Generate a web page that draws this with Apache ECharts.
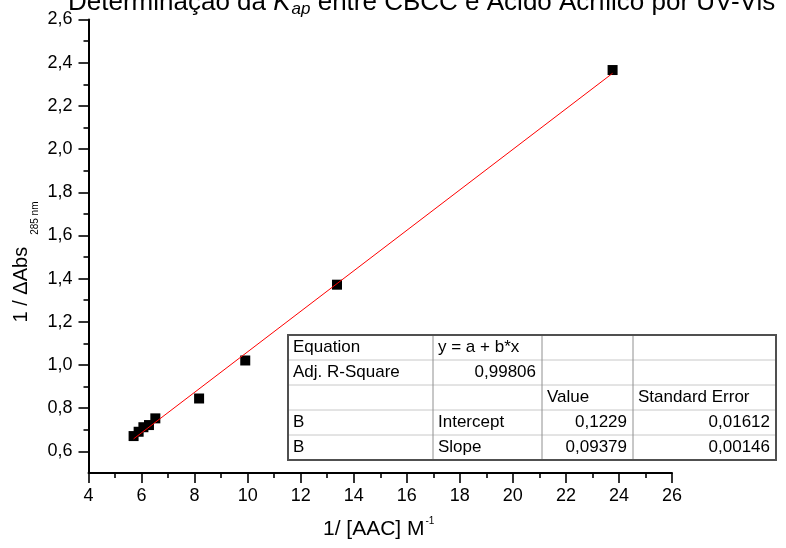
<!DOCTYPE html>
<html>
<head>
<meta charset="utf-8">
<script src="https://cdn.jsdelivr.net/npm/echarts@6/dist/echarts.min.js"></script>
<style>
  html, body { margin: 0; padding: 0; background: #fff; }
  #chart { width: 786px; height: 548px; }
</style>
</head>
<body>
<div id="chart"></div>
<script>
// data
var xData = [5.70, 5.89, 6.07, 6.28, 6.52, 8.17, 9.91, 13.37, 23.76];
var yData = [0.671, 0.691, 0.712, 0.722, 0.753, 0.845, 1.021, 1.372, 2.366];
// linear fit line end points
var fitX = [5.70, 23.76];
var fitY = [0.658, 2.351];
// ticks
var xTicks = [4, 6, 8, 10, 12, 14, 16, 18, 20, 22, 24, 26];
var yTicks = [0.6, 0.8, 1.0, 1.2, 1.4, 1.6, 1.8, 2.0, 2.2, 2.4, 2.6];
var yMinor = [0.7, 0.9, 1.1, 1.3, 1.5, 1.7, 1.9, 2.1, 2.3, 2.5];
var yMin = 0.5;
// fit results table
var tableRows = [
    ['Equation', 'y = a + b*x', '', ''],
    ['Adj. R-Square', '0,99806', '', ''],
    ['', '', 'Value', 'Standard Error'],
    ['B', 'Intercept', '0,1229', '0,01612'],
    ['B', 'Slope', '0,09379', '0,00146']
];

var FONT = '"Liberation Sans", Arial, sans-serif';
var chart = echarts.init(document.getElementById('chart'));

function comma(v) {
    return v.toFixed(1).replace('.', ',');
}

// table graphic
var colX = [288, 433, 542, 633, 776];
var rowTop = 335, rowH = 25;
var tableEls = [];
var tw = colX[colX.length - 1] - colX[0];
var th = rowH * tableRows.length;
tableEls.push({
    type: 'rect', z: 100,
    shape: { x: colX[0], y: rowTop, width: tw, height: th },
    style: { fill: '#fff', stroke: null }
});
for (var r = 1; r < tableRows.length; r++) {
    tableEls.push({
        type: 'line', z: 101,
        shape: { x1: colX[0], y1: rowTop + r * rowH, x2: colX[4], y2: rowTop + r * rowH },
        style: { stroke: '#c8c8c8', lineWidth: 1 }
    });
}
for (var c = 1; c < colX.length - 1; c++) {
    tableEls.push({
        type: 'line', z: 101,
        shape: { x1: colX[c], y1: rowTop, x2: colX[c], y2: rowTop + th },
        style: { stroke: '#909090', lineWidth: 1 }
    });
}
tableEls.push({
    type: 'rect', z: 102,
    shape: { x: colX[0], y: rowTop, width: tw, height: th },
    style: { fill: null, stroke: '#505050', lineWidth: 2 }
});
tableRows.forEach(function (row, ri) {
    row.forEach(function (txt, ci) {
        if (!txt) return;
        var isNum = /^[0-9,]+$/.test(txt);
        tableEls.push({
            type: 'text', z: 103,
            x: isNum ? colX[ci + 1] - 6 : colX[ci] + 5,
            y: rowTop + ri * rowH + rowH / 2 - 0.5,
            style: {
                text: txt, fill: '#000', fontSize: 17, fontFamily: FONT,
                textAlign: isNum ? 'right' : 'left', textVerticalAlign: 'middle'
            }
        });
    });
});

var option = {
    animation: false,
    backgroundColor: '#fff',
    grid: { left: 88.5, right: 114, top: 19.5, bottom: 75, outerBoundsMode: 'none' },
    xAxis: {
        type: 'value',
        min: xTicks[0], max: xTicks[xTicks.length - 1], interval: 2,
        axisLine: { show: true, onZero: false, lineStyle: { color: '#000', width: 2 } },
        axisTick: { show: true, length: 10, lineStyle: { color: '#000', width: 1.6 } },
        minorTick: { show: true, splitNumber: 2, length: 5, lineStyle: { color: '#000', width: 1.6 } },
        axisLabel: { margin: 14, fontSize: 18, fontFamily: FONT, color: '#000' },
        splitLine: { show: false }
    },
    yAxis: [{
        type: 'value',
        min: yMin, max: yTicks[yTicks.length - 1],
        axisLine: { show: true, onZero: false, lineStyle: { color: '#000', width: 2 } },
        axisTick: { show: true, length: 10, customValues: yTicks, lineStyle: { color: '#000', width: 1.6 } },
        axisLabel: { margin: 16, fontSize: 18, fontFamily: FONT, color: '#000', customValues: yTicks, formatter: comma },
        splitLine: { show: false }
    }, {
        type: 'value',
        position: 'left',
        min: yMin, max: yTicks[yTicks.length - 1],
        axisLine: { show: false },
        axisTick: { show: true, length: 5, customValues: yMinor, lineStyle: { color: '#000', width: 1.6 } },
        axisLabel: { show: false },
        splitLine: { show: false }
    }],
    series: [{
        type: 'scatter',
        symbol: 'rect',
        symbolSize: 10,
        itemStyle: { color: '#000', opacity: 1 },
        data: xData.map(function (x, i) { return [x, yData[i]]; })
    }, {
        type: 'line',
        showSymbol: false,
        lineStyle: { color: '#ff0000', width: 1 },
        data: fitX.map(function (x, i) { return [x, fitY[i]]; })
    }],
    graphic: [{
        type: 'text', z: 100,
        x: 68, y: 3,
        style: {
            text: 'Determinação da {k|K}{s|ap} entre CBCC e Ácido Acrílico por UV-Vis',
            fill: '#000', fontSize: 26, fontFamily: FONT,
            textAlign: 'left', textVerticalAlign: 'middle',
            rich: {
                k: { fontSize: 26, fontStyle: 'italic', fontFamily: FONT },
                s: { fontSize: 17, fontStyle: 'italic', fontFamily: FONT, padding: [12, 0, 0, 1] }
            }
        }
    }, {
        type: 'text', z: 100,
        x: 21.3, y: 262, rotation: Math.PI / 2,
        style: {
            text: '1 / ΔAbs{s|285 nm}',
            fill: '#000', fontSize: 20, fontFamily: FONT,
            textAlign: 'center', textVerticalAlign: 'middle',
            rich: { s: { fontSize: 10, fontFamily: FONT, padding: [27, 0, 0, 12] } }
        }
    }, {
        type: 'text', z: 100,
        x: 323, y: 529.7,
        style: {
            text: '1/ [AAC] M{p|-1}',
            fill: '#000', fontSize: 21, fontFamily: FONT,
            textAlign: 'left', textVerticalAlign: 'middle',
            rich: { p: { fontSize: 10, fontFamily: FONT, padding: [0, 0, 16.4, 1] } }
        }
    }].concat(tableEls)
};

chart.setOption(option);
</script>
</body>
</html>
